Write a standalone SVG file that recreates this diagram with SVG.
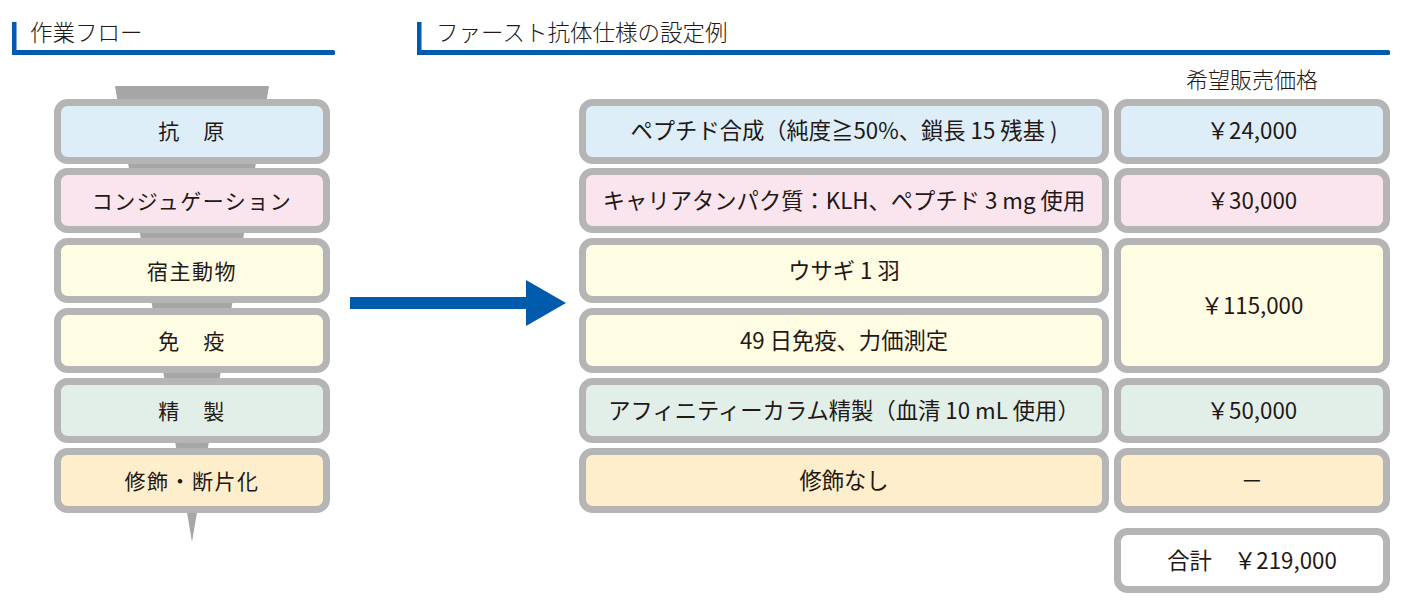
<svg xmlns="http://www.w3.org/2000/svg" width="1407" height="607" viewBox="0 0 1407 607">
<style>
text{font-family:"Noto Sans CJK JP","Noto Sans",sans-serif;fill:#231815;text-anchor:middle}
.hd{font-size:22.5px;text-anchor:start;font-weight:300}
.lb{font-size:21px;letter-spacing:1.5px}
.rt{font-size:22.3px}
.pr{font-size:22.3px}
.box{stroke:#b5b5b5;stroke-width:7}
.blue{fill:#ddeef9}.pink{fill:#fae5ee}.yel{fill:#fffce4}.grn{fill:#e1efe8}.org{fill:#feeecc}.wht{fill:#ffffff}
.bar{fill:#005bac}
</style>
<g id="header-left">
<rect class="bar" x="12" y="22" width="4.5" height="33"/>
<rect class="bar" x="12" y="50" width="323" height="5" rx="1.5"/>
<text class="hd" x="30" y="41">作業フロー</text>
</g>
<g id="header-right">
<rect class="bar" x="417" y="22" width="4.5" height="33"/>
<rect class="bar" x="417" y="50" width="973" height="5" rx="1.5"/>
<text class="hd" x="436" y="41">ファースト抗体仕様の設定例</text>
<text x="1252" y="88" style="font-size:22px;font-weight:300">希望販売価格</text>
</g>
<g id="connectors">
<polygon points="115,86 269,86 192,542" fill="#a6a6a6"/>
<rect x="350" y="297" width="180" height="12" fill="#005bac"/>
<polygon points="526,280 566,303 526,326" fill="#005bac"/>
</g>
<g id="flow-1"><rect class="box blue" x="57.5" y="102.5" width="269" height="58" rx="10"/><text class="lb" x="192" y="139">抗　原</text></g>
<g id="flow-2"><rect class="box pink" x="57.5" y="171.5" width="269" height="58" rx="10"/><text class="lb" x="192" y="208.5">コンジュゲーション</text></g>
<g id="flow-3"><rect class="box yel" x="57.5" y="241.5" width="269" height="58" rx="10"/><text class="lb" x="192" y="278.5">宿主動物</text></g>
<g id="flow-4"><rect class="box yel" x="57.5" y="311.5" width="269" height="58" rx="10"/><text class="lb" x="192" y="348.5">免　疫</text></g>
<g id="flow-5"><rect class="box grn" x="57.5" y="381.5" width="269" height="58" rx="10"/><text class="lb" x="192" y="418.5">精　製</text></g>
<g id="flow-6"><rect class="box org" x="57.5" y="451.5" width="269" height="58" rx="10"/><text class="lb" x="192" y="488.5">修飾・断片化</text></g>

<g id="spec-1"><rect class="box blue" x="582.5" y="102.5" width="523" height="58" rx="10"/><text class="rt" x="844" y="139">ペプチド合成（純度≧50%、鎖長 15 残基 )</text></g>
<g id="spec-2"><rect class="box pink" x="582.5" y="171.5" width="523" height="58" rx="10"/><text class="rt" x="844" y="208.5">キャリアタンパク質：KLH、ペプチド 3 mg 使用</text></g>
<g id="spec-3"><rect class="box yel" x="582.5" y="241.5" width="523" height="58" rx="10"/><text class="rt" x="844" y="278.5">ウサギ 1 羽</text></g>
<g id="spec-4"><rect class="box yel" x="582.5" y="311.5" width="523" height="58" rx="10"/><text class="rt" x="844" y="348.5">49 日免疫、力価測定</text></g>
<g id="spec-5"><rect class="box grn" x="582.5" y="381.5" width="523" height="58" rx="10"/><text class="rt" x="844" y="418.5">アフィニティーカラム精製（血清 10 mL 使用）</text></g>
<g id="spec-6"><rect class="box org" x="582.5" y="451.5" width="523" height="58" rx="10"/><text class="rt" x="844" y="488.5">修飾なし</text></g>

<g id="price-1"><rect class="box blue" x="1117.5" y="102.5" width="269" height="58" rx="10"/><text class="pr" x="1252" y="139">￥24,000</text></g>
<g id="price-2"><rect class="box pink" x="1117.5" y="171.5" width="269" height="58" rx="10"/><text class="pr" x="1252" y="208.5">￥30,000</text></g>
<g id="price-3"><rect class="box yel" x="1117.5" y="241.5" width="269" height="128" rx="10"/><text class="pr" x="1252" y="313.5">￥115,000</text></g>
<g id="price-5"><rect class="box grn" x="1117.5" y="381.5" width="269" height="58" rx="10"/><text class="pr" x="1252" y="418.5">￥50,000</text></g>
<g id="price-6"><rect class="box org" x="1117.5" y="451.5" width="269" height="58" rx="10"/><text class="pr" x="1252" y="488.5">－</text></g>
<g id="total"><rect class="box wht" x="1117.5" y="531.5" width="269" height="58" rx="10"/><text class="pr" x="1252" y="568.5">合計　￥219,000</text></g>
</svg>
